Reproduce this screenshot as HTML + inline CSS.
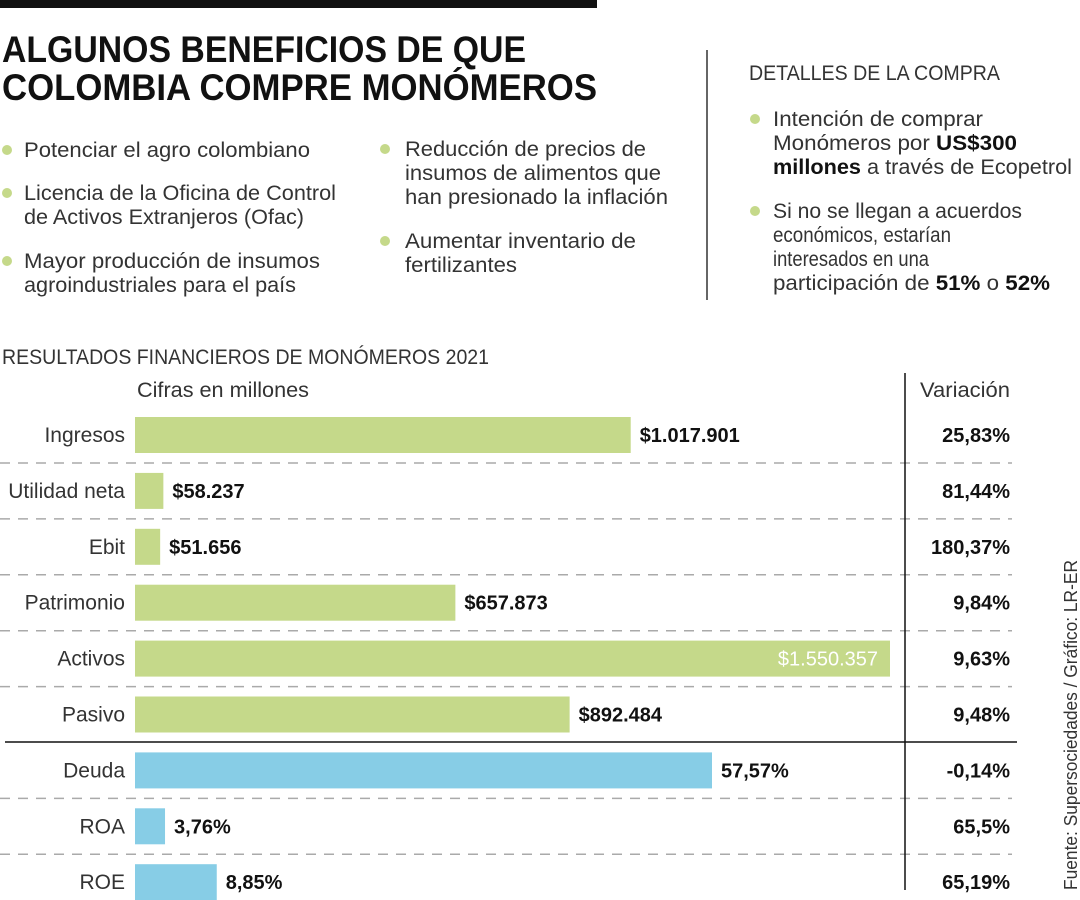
<!DOCTYPE html>
<html><head><meta charset="utf-8"><style>
body{margin:0;background:#fff}
svg{display:block;font-family:"Liberation Sans",sans-serif}
.b{font-size:21px;fill:#333}
.t{font-size:37px;font-weight:bold;fill:#111}
.v{font-size:20px;font-weight:bold;fill:#111}
</style></head><body>
<svg id="s" width="1080" height="900" viewBox="0 0 1080 900">
<rect x="0" y="0" width="597" height="8" fill="#111"/>
<g>
<text class="t" x="2" y="62" textLength="524" lengthAdjust="spacingAndGlyphs">ALGUNOS BENEFICIOS DE QUE</text>
<text class="t" x="2" y="100" textLength="595" lengthAdjust="spacingAndGlyphs">COLOMBIA COMPRE MONÓMEROS</text>
</g>
<line x1="707" y1="50" x2="707" y2="300" stroke="#333" stroke-width="1.5"/>
<g id="bul"></g>
<text class="b" x="749" y="80" textLength="251" lengthAdjust="spacingAndGlyphs">DETALLES DE LA COMPRA</text>
<text class="b" x="2" y="364" textLength="487" lengthAdjust="spacingAndGlyphs">RESULTADOS FINANCIEROS DE MONÓMEROS 2021</text>
<text class="b" x="137" y="397" textLength="172" lengthAdjust="spacingAndGlyphs">Cifras en millones</text>
<text class="b" x="920" y="397" textLength="90" lengthAdjust="spacingAndGlyphs">Variación</text>
<g id="chart"></g>
<line x1="905" y1="373" x2="905" y2="890" stroke="#111" stroke-width="1.5"/>
<line x1="5" y1="742" x2="1017" y2="742" stroke="#111" stroke-width="1.5"/>
<text class="b" transform="translate(1077,890) rotate(-90)" x="0" y="0" textLength="330" lengthAdjust="spacingAndGlyphs" style="font-size:18px">Fuente: Supersociedades / Gráfico: LR-ER</text>
</svg>
<script>
const NS='http://www.w3.org/2000/svg';
function mk(t,a,p){const e=document.createElementNS(NS,t);for(const k in a)e.setAttribute(k,a[k]);p.appendChild(e);return e;}
const bullets=[
[7,24,[[157,310,'Potenciar el agro colombiano']]],
[7,24,[[200,336,'Licencia de la Oficina de Control'],[224,304,'de Activos Extranjeros (Ofac)']]],
[7,24,[[268,320,'Mayor producción de insumos'],[292,296,'agroindustriales para el país']]],
[385,405,[[156,646,'Reducción de precios de'],[180,661,'insumos de alimentos que'],[204,668,'han presionado la inflación']]],
[385,405,[[248,636,'Aumentar inventario de'],[272,517,'fertilizantes']]],
[755,773,[[126,983,'Intención de comprar'],[150,1017,'Monómeros por <tspan font-weight="bold" fill="#111">US$300</tspan>'],[174,1072,'<tspan font-weight="bold" fill="#111">millones</tspan> a través de Ecopetrol']]],
[755,773,[[218,1022,'Si no se llegan a acuerdos'],[242,951,'económicos, estarían'],[266,929,'interesados en una'],[290,1050,'participación de <tspan font-weight="bold" fill="#111">51%</tspan> o <tspan font-weight="bold" fill="#111">52%</tspan>']]]];
const bg=document.getElementById('bul');
bullets.forEach(b=>{
  const c=mk('circle',{cx:b[0],cy:b[2][0][0]-7,r:5,fill:'#c5d98a'},bg);
  
  
  b[2].forEach(l=>{
    const t=mk('text',{class:'b',x:b[1],y:l[0],textLength:l[1]-b[1],lengthAdjust:'spacingAndGlyphs'},bg);
    t.innerHTML=l[2];
    
    
  });
});
const categories=['Ingresos','Utilidad neta','Ebit','Patrimonio','Activos','Pasivo','Deuda','ROA','ROE'];
const values=[1017901,58237,51656,657873,1550357,892484,57.57,3.76,8.85];
const valueLabels=['$1.017.901','$58.237','$51.656','$657.873','$1.550.357','$892.484','57,57%','3,76%','8,85%'];
const variations=['25,83%','81,44%','180,37%','9,84%','9,63%','9,48%','-0,14%','65,5%','65,19%'];
const isPercent=[false,false,false,false,false,false,true,true,true];
const x0=135;
const xMoney=v=>x0+v*755/1550357;
const xPct=v=>126.8+v*10.165;
const yRow=i=>435+i*55.9;
const g=document.getElementById('chart');
categories.forEach((c,i)=>{
  const y=yRow(i);
  const xe=isPercent[i]?xPct(values[i]):xMoney(values[i]);
  const r=mk('rect',{x:x0,y:y-18,width:Math.max(0,xe-x0),height:36,fill:isPercent[i]?'#87cde6':'#c5d98a'},g);
  
  
  const l=mk('text',{class:'b',x:125,y:y+7,'text-anchor':'end'},g);l.textContent=c;
  
  
  const inside=xe>850;
  const v=mk('text',{class:'v',x:inside?xe-12:xe+9,y:y+7,'text-anchor':inside?'end':'start'},g);
  if(inside)v.setAttribute('style','fill:#fff;font-weight:normal');
  v.textContent=valueLabels[i];
  
  
  const vr=mk('text',{class:'v',x:1010,y:y+7,'text-anchor':'end'},g);vr.textContent=variations[i];
  
  
  if(i<categories.length-1&&i!==5){
    const d=mk('line',{x1:0,x2:1012,y1:y+28,y2:y+28,stroke:'#aaa','stroke-width':1.5,'stroke-dasharray':'10 8'},g);
    
    
  }
});
</script>
</body></html>
